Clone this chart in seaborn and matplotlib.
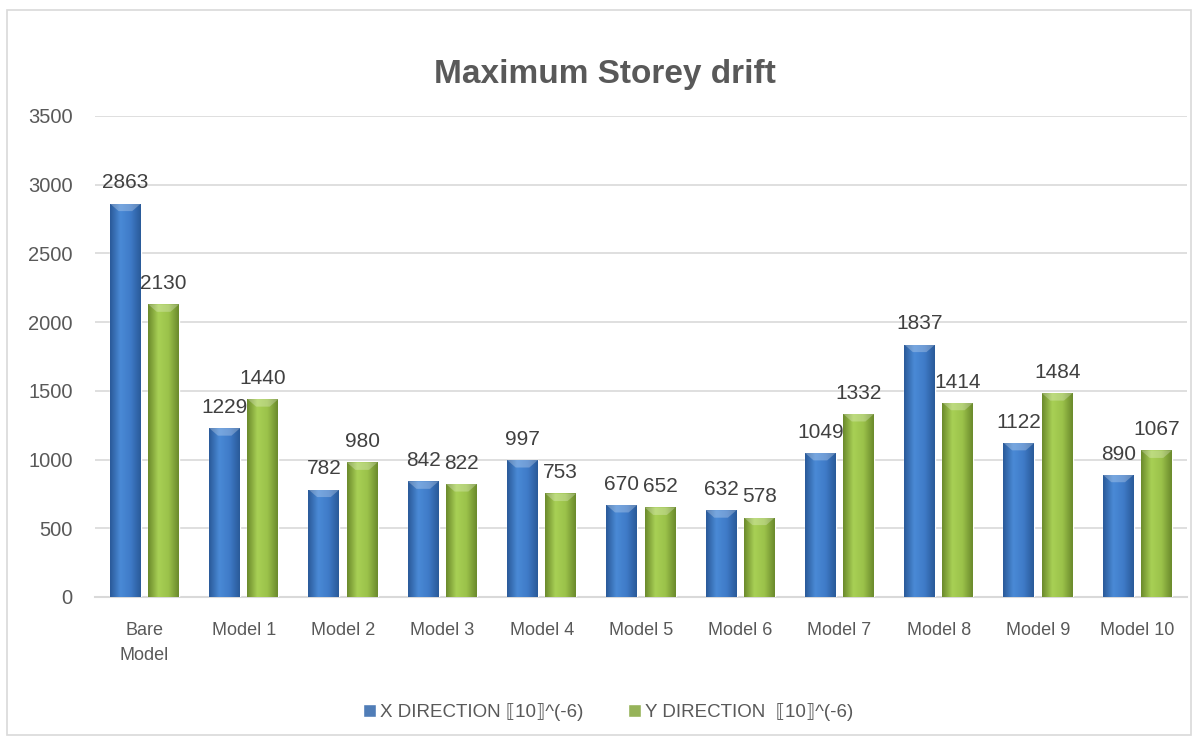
import matplotlib
matplotlib.use('Agg')
import matplotlib.pyplot as plt
import numpy as np
import pandas as pd
import seaborn as sns
from matplotlib.patches import Rectangle, Polygon
from matplotlib.colors import LinearSegmentedColormap

# Maximum storey drift data
models = ['Bare\nModel', 'Model 1', 'Model 2', 'Model 3', 'Model 4', 'Model 5',
          'Model 6', 'Model 7', 'Model 8', 'Model 9', 'Model 10']
x_drift = [2863, 1229, 782, 842, 997, 670, 632, 1049, 1837, 1122, 890]
y_drift = [2130, 1440, 980, 822, 753, 652, 578, 1332, 1414, 1484, 1067]
series = ['X DIRECTION \u27e610\u27e7^(-6)', 'Y DIRECTION  \u27e610\u27e7^(-6)']

sns.set_style('white')
plt.rcParams['font.family'] = ['Liberation Sans', 'DejaVu Sans']

data = pd.DataFrame({'Model': models * 2,
                     'value': x_drift + y_drift,
                     'Series': [series[0]] * len(models) + [series[1]] * len(models)})

base = {series[0]: '#3F7BC8', series[1]: '#9BC24A'}
edge_dark = {series[0]: '#2A5A99', series[1]: '#6B8A2C'}
center_light = {series[0]: '#4A8AD6', series[1]: '#A8D055'}

fig = plt.figure(figsize=(11.98, 7.45), dpi=100)
ax = fig.add_axes([0.0792, 0.1987, 0.9116, 0.6456])

sns.barplot(data=data, x='Model', y='value', hue='Series', palette=base,
            width=0.77, gap=0.19, ax=ax, legend=True, zorder=3)

ax.set_ylim(0, 3500)
ax.set_xlim(-0.5, len(models) - 0.5)
ax.set_yticks(np.arange(0, 3501, 500))
ax.grid(axis='y', color='#D9D9D9', linewidth=1.2, zorder=0)
ax.set_axisbelow(True)
for s in ['top', 'right', 'left']:
    ax.spines[s].set_visible(False)
ax.spines['bottom'].set_color('#D9D9D9')
ax.spines['bottom'].set_linewidth(1.5)
ax.tick_params(axis='both', length=0, colors='#595959')
ax.tick_params(axis='y', pad=16, labelsize=14.5)
ax.tick_params(axis='x', pad=18, labelsize=13)
for lbl in ax.get_xticklabels():
    lbl.set_linespacing(1.6)
ax.set_xlabel('')
ax.set_ylabel('')

# gradient shading on each bar
for cont, name in zip(ax.containers, series):
    cmap = LinearSegmentedColormap.from_list(
        name, [edge_dark[name], center_light[name], base[name], edge_dark[name]])
    grad = np.linspace(0, 1, 64).reshape(1, -1)
    for p in cont.patches:
        x0, w, h = p.get_x(), p.get_width(), p.get_height()
        im = ax.imshow(grad, cmap=cmap, aspect='auto', extent=(x0, x0 + w, 0, h),
                       zorder=3.5, interpolation='bicubic')
        im.set_clip_path(p)
        tri = Polygon([(x0, h), (x0 + w, h), (x0 + w * 0.72, h - 55), (x0 + w * 0.28, h - 55)],
                      closed=True, facecolor='white', alpha=0.25, edgecolor='none', zorder=3.6)
        ax.add_patch(tri)
    ax.bar_label(cont, fmt='%d', padding=8, fontsize=15, color='#404040', zorder=5)

ax.set_xlim(-0.5, len(models) - 0.5)
ax.set_ylim(0, 3500)

ax.legend(loc='center', bbox_to_anchor=(0.47, -0.24), ncol=2, frameon=False,
          fontsize=13.5, handlelength=0.7, handleheight=0.7, handletextpad=0.2,
          columnspacing=2.4, labelcolor='#595959')

fig.text(0.505, 0.9, 'Maximum Storey drift', ha='center', va='center',
         fontsize=24, fontweight='bold', color='#595959')

fig.patches.append(Rectangle((0.006, 0.013), 0.988, 0.974, transform=fig.transFigure,
                             fill=False, edgecolor='#D9D9D9', linewidth=1.2))

fig.savefig('out.png', dpi=100)
